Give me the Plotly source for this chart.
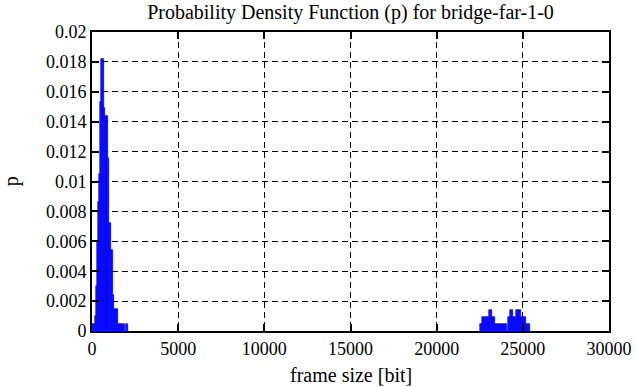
import numpy as np
import plotly.graph_objects as go

# ---- data ----
bin_width = 60  # bits per histogram bin
left_start = 0
left_p = [0.0005, 0.0005, 0.0005, 0.001, 0.003, 0.006, 0.0086, 0.0105, 0.0153,
          0.0182, 0.0182, 0.0182, 0.0149, 0.0144, 0.0144, 0.0116, 0.0072, 0.0072,
          0.0054, 0.0054, 0.0024, 0.00145, 0.00145, 0.00145, 0.00145,
          0.0005, 0.0005, 0.0005, 0.0005, 0.0005, 0.0005, 0.0005, 0.0,
          0.0005, 0.0005]
right_start = 22500
right_p = ([0.00047] * 2 + [0.00094] * 7 + [0.0014] * 3 + [0.00094] * 3 +
           [0.00047] * 11 + [0.0] + [0.00094] * 2 + [0.0014] * 3 +
           [0.00094] * 3 + [0.0014] * 5 + [0.00094] * 5 + [0.00047] * 4)

x_ticks = [0, 5000, 10000, 15000, 20000, 25000, 30000]
x_tick_labels = ["0", "5000", "10000", "15000", "20000", "25000", "30000"]
y_ticks = [0, 0.002, 0.004, 0.006, 0.008, 0.01, 0.012, 0.014, 0.016, 0.018, 0.02]
y_tick_labels = ["0", "0.002", "0.004", "0.006", "0.008", "0.01", "0.012",
                 "0.014", "0.016", "0.018", "0.02"]

# bin centres
left_x = left_start + bin_width * (np.arange(len(left_p)) + 0.5)
right_x = right_start + bin_width * (np.arange(len(right_p)) + 0.5)
xs = np.concatenate([left_x, right_x])
ps = np.array(left_p + right_p)

font = "Liberation Serif, Times New Roman, serif"

fig = go.Figure()
fig.add_trace(go.Bar(x=xs, y=ps, width=bin_width,
                     marker=dict(color="#0000ff", line=dict(width=0.6, color="#0000ff")),
                     showlegend=False, hoverinfo="skip"))

axis_common = dict(
    showline=True, linecolor="black", linewidth=2, mirror="allticks",
    ticks="inside", ticklen=7, tickwidth=2, tickcolor="black",
    showgrid=True, gridcolor="black", gridwidth=1, griddash="6px,4px",
    zeroline=False, automargin=False,
    tickfont=dict(family=font, size=18, color="black"),
)

fig.update_layout(
    width=636, height=387,
    margin=dict(l=92, r=27, t=32, b=56, autoexpand=False),
    paper_bgcolor="white", plot_bgcolor="white",
    bargap=0,
    font=dict(family=font, size=18, color="black"),
    title=dict(text="Probability Density Function (p) for bridge-far-1-0",
               x=0.5511, xanchor="center", y=0.970, yanchor="middle",
               font=dict(family=font, size=20, color="black")),
    xaxis=dict(range=[0, 30000], tickvals=x_ticks, ticktext=x_tick_labels,
               **axis_common),
    yaxis=dict(range=[0, 0.02], tickvals=y_ticks, ticktext=y_tick_labels,
               **axis_common),
    annotations=[
        dict(text="frame size [bit]", xref="paper", yref="paper", x=0.5, y=-0.148,
             xanchor="center", yanchor="middle", showarrow=False,
             font=dict(family=font, size=20, color="black")),
        dict(text="p", xref="paper", yref="paper", x=-0.155, y=0.5, textangle=-90,
             xanchor="center", yanchor="middle", showarrow=False,
             font=dict(family=font, size=20, color="black")),
    ],
)

fig.write_html("out.html", config={"displayModeBar": False},
               post_script="document.body.style.margin='0';document.body.style.padding='0';")
